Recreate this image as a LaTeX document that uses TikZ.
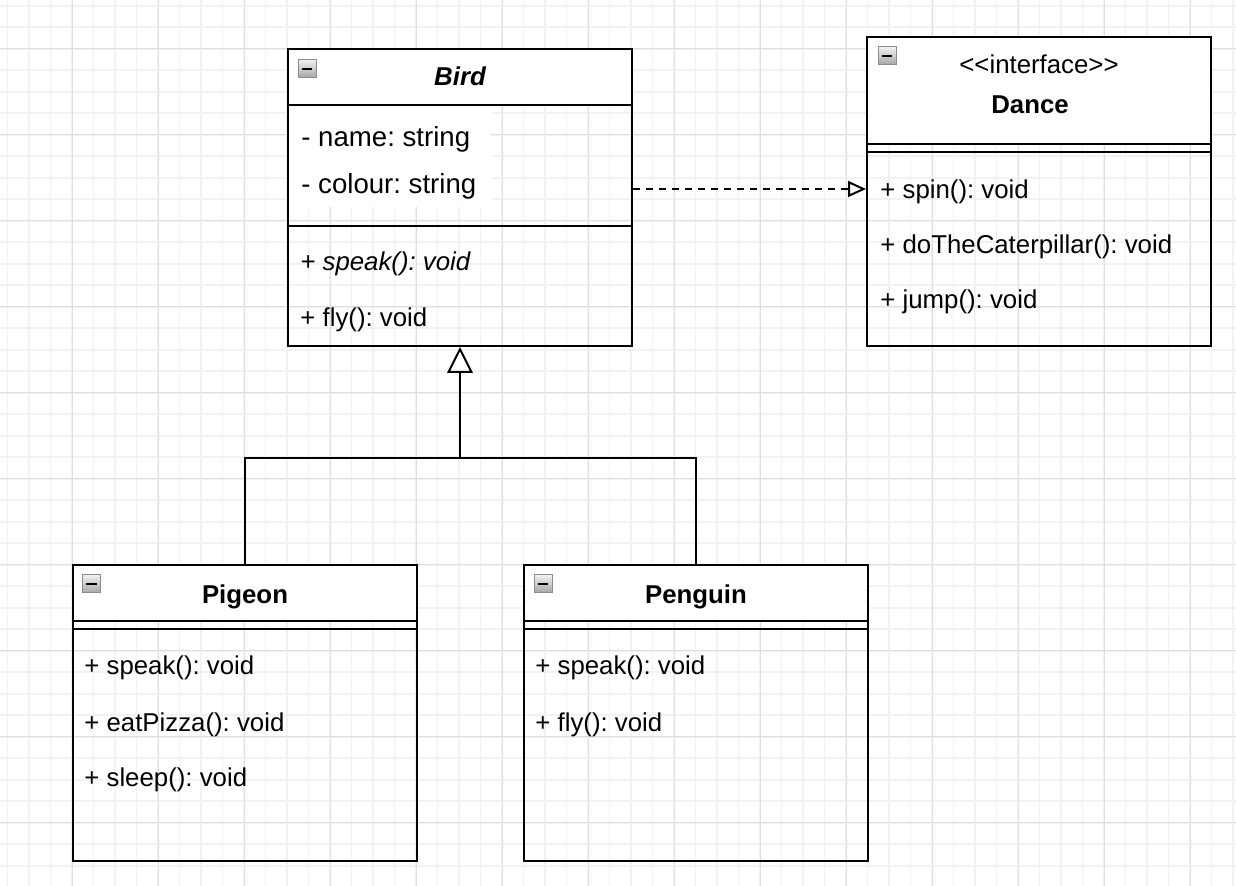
\documentclass[tikz,border=0pt]{standalone}
\usepackage{fontspec}
\setmainfont{Liberation Sans}
\usetikzlibrary{arrows.meta}
\frenchspacing

% small "collapse" toggle drawn in the top-left corner of each class box
\newcommand\collapseicon[3]{%
  \node[togglebox] (#1) at (#2,#3) {};
  \draw[line width=1pt] ([xshift=-2.7pt]#1.center) -- ([xshift=2.7pt]#1.center);
}

\begin{document}
\begin{tikzpicture}[x=0.5pt,y=-0.5pt,
  gridminor/.style={draw=black!5, line width=0.9pt},
  gridmajor/.style={draw=black!13, line width=0.5pt},
  umlbox/.style={draw=black, line width=1pt, minimum width=172pt, inner sep=0pt},
  umlhead/.style={draw=black, fill=white, line width=1pt, minimum width=172pt, inner sep=0pt},
  togglebox/.style={draw=black!45, line width=0.5pt, top color=black!6, bottom color=black!35,
    minimum size=9pt, inner sep=0pt},
  member/.style={anchor=base west, inner sep=0pt, font=\fontsize{12.9}{15}\selectfont},
  attr/.style={anchor=base west, inner sep=0pt, font=\fontsize{13.8}{16}\selectfont},
  title/.style={anchor=base, inner sep=0pt, font=\fontsize{12.9}{15}\selectfont\bfseries},
  link/.style={line width=1pt, draw=black},
]
\useasboundingbox (0,0) rectangle (1236,886);

% background grid
\begin{scope}
  \clip (0,0) rectangle (1236,886);
  \foreach \i in {0,...,57} \draw[gridminor] ({7.5+21.5*\i},0) -- ({7.5+21.5*\i},886);
  \foreach \i in {0,...,40} \draw[gridminor] (0,{5.7+21.5*\i}) -- (1236,{5.7+21.5*\i});
  \foreach \i in {0,...,13} \draw[gridmajor] ({72+86*\i},0) -- ({72+86*\i},886);
  \foreach \i in {0,...,9} \draw[gridmajor] (0,{48.7+86*\i}) -- (1236,{48.7+86*\i});
\end{scope}

% ---------- Bird ----------
\fill[white] (289,106) rectangle (491,207);
\node[umlbox, minimum height=148.5pt] (bird) at (460,197.5) {};
\node[umlhead, minimum height=28pt] (birdhead) at (460,77) {};
\draw[link] (bird.west |- 0,226) -- (bird.east |- 0,226);
\collapseicon{birdtoggle}{307}{68.8}
\node[title, font=\fontsize{12.9}{15}\selectfont\bfseries\itshape] (birdname) at (460,85.7) {Bird};
\node[attr] (aname) at (301,146.7) {- name: string};
\node[attr] (acolour) at (301,194) {- colour: string};
\node[member, font=\fontsize{12.9}{15}\selectfont\itshape] (bspeak) at (300,270.7) {+ speak(): void};
\node[member] (bfly) at (300,326.7) {+ fly(): void};

% ---------- Dance ----------
\node[umlbox, minimum height=154.5pt] (dance) at (1039,191.5) {};
\node[umlhead, minimum height=53.5pt] (dancehead) at (1039,90.5) {};
\draw[link] (dance.west |- 0,152) -- (dance.east |- 0,152);
\collapseicon{dancetoggle}{887}{56}
\node[anchor=base, inner sep=0pt, font=\fontsize{12.9}{15}\selectfont] (stereo) at (1039,73.3) {{<}{<}interface{>}{>}};
\node[title] (dancename) at (1030,114) {Dance};
\node[member] (dspin) at (880,198.3) {+ spin(): void};
\node[member] (dcat) at (880,254) {+ doTheCaterpillar(): void};
\node[member] (djump) at (880,308.3) {+ jump(): void};

% ---------- Pigeon ----------
\node[umlbox, minimum height=148pt] (pigeon) at (245,713) {};
\node[umlhead, minimum height=28pt] (pigeonhead) at (245,593) {};
\draw[link] (pigeon.west |- 0,629) -- (pigeon.east |- 0,629);
\collapseicon{pigeontoggle}{91.7}{584}
\node[title] (pigeonname) at (245,603.3) {Pigeon};
\node[member] (pspeak) at (84,675) {+ speak(): void};
\node[member] (peat) at (84,731.7) {+ eatPizza(): void};
\node[member] (psleep) at (84,786.7) {+ sleep(): void};

% ---------- Penguin ----------
\node[umlbox, minimum height=148pt] (penguin) at (696,713) {};
\node[umlhead, minimum height=28pt] (penguinhead) at (696,593) {};
\draw[link] (penguin.west |- 0,629) -- (penguin.east |- 0,629);
\collapseicon{penguintoggle}{543}{584}
\node[title] (penguinname) at (696,603.3) {Penguin};
\node[member] (gspeak) at (535,675) {+ speak(): void};
\node[member] (gfly) at (535,731.7) {+ fly(): void};

% ---------- relations ----------
% generalisation: Pigeon and Penguin inherit from Bird
\coordinate (split) at (460,457.7);
\draw[link] (pigeon.north) |- (split) -| (penguin.north);
\draw[link, -{Triangle[length=13pt, width=12.8pt, fill=white]}] (split) -- (bird.south);

% realisation: Bird implements Dance
\coordinate (reallevel) at (0,189);
\draw[link, dash pattern=on 3.5pt off 3pt, -{Triangle[length=9pt, width=8pt, fill=white]}]
  (bird.east |- reallevel) -- (dance.west |- reallevel);

\end{tikzpicture}
\end{document}
